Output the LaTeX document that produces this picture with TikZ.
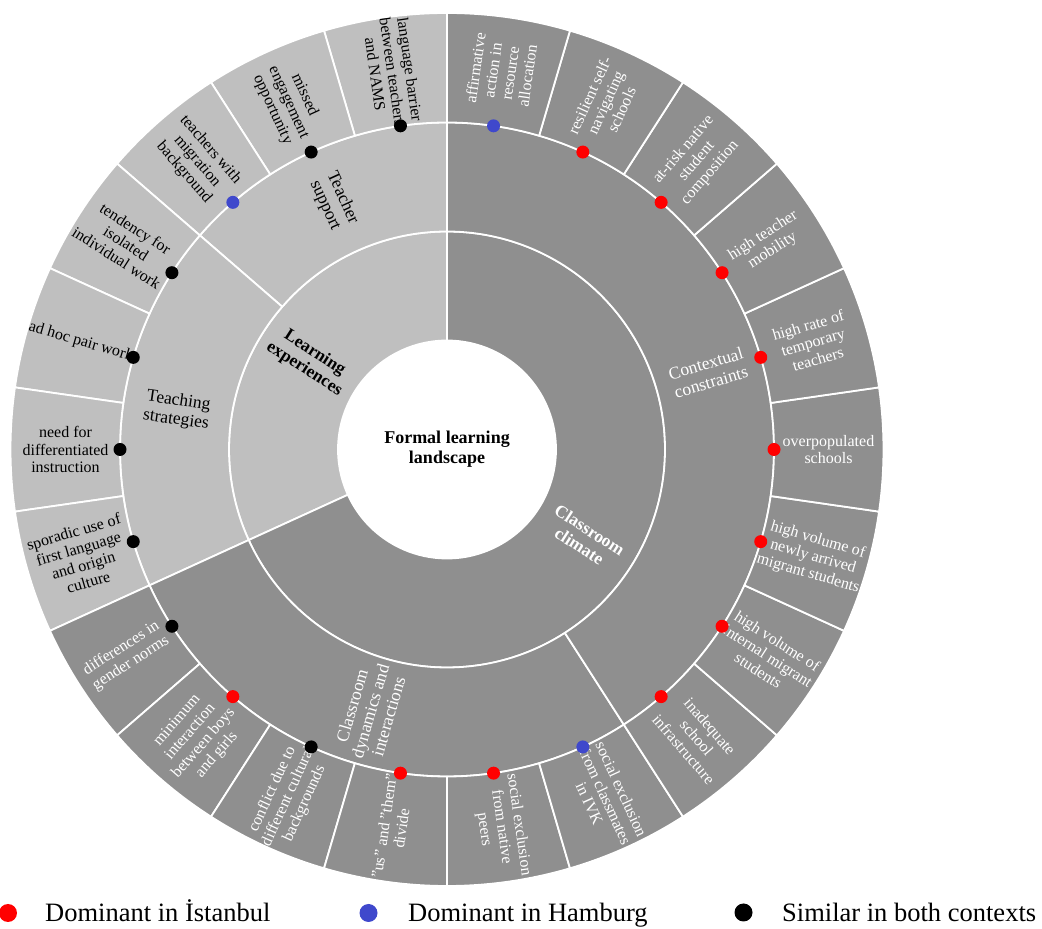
\documentclass[tikz,border=0pt]{standalone}
\usepackage{fontspec}
\setmainfont{Liberation Serif}
\definecolor{lightsec}{RGB}{191,191,191}
\definecolor{darksec}{RGB}{143,143,143}
\definecolor{istanbul}{RGB}{255,0,0}
\definecolor{hamburg}{RGB}{63,72,204}
\definecolor{both}{RGB}{0,0,0}
% annular sector: fill colour, start angle, end angle, inner radius, outer radius
\newcommand\annsec[5]{%
  \filldraw[sector, fill=#1] (#2:#4pt) arc[start angle=#2, end angle=#3, radius=#4pt]
    -- (#3:#5pt) arc[start angle=#3, end angle=#2, radius=#5pt] -- cycle;}
\begin{document}
\begin{tikzpicture}[x=1pt,y=1pt,
  sector/.style={draw=white, line width=1.8pt, line join=round},
  leaflabel/.style={align=center, inner sep=0pt, font=\fontsize{16}{17.5}\selectfont},
  midlabel/.style={align=center, inner sep=0pt, font=\fontsize{17.5}{19}\selectfont},
  toplabel/.style={align=center, inner sep=0pt, font=\bfseries\fontsize{17.5}{19}\selectfont},
  legendtext/.style={anchor=base west, inner sep=0pt, font=\fontsize{26.5}{28}\selectfont},
  marker/.style={radius=6.5pt}]
\useasboundingbox (0,0) rectangle (1042,929);
\begin{scope}[shift={(447,479.5)}]
  % innermost ring
  \annsec{lightsec}{90}{204.5455}{109}{218}
  \annsec{darksec}{204.5455}{450}{109}{218}
  % middle ring
  \annsec{lightsec}{90}{139.0909}{218}{327}
  \annsec{lightsec}{139.0909}{204.5455}{218}{327}
  \annsec{darksec}{204.5455}{302.7273}{218}{327}
  \annsec{darksec}{302.7273}{450}{218}{327}
  % outer ring: 22 equal leaves, counterclockwise from the top
  \foreach \k in {0,...,21}{
    \pgfmathsetmacro\aa{90+\k*360/22}
    \pgfmathsetmacro\bb{90+(\k+1)*360/22}
    \ifnum\k<7 \def\sc{lightsec}\else\def\sc{darksec}\fi
    \annsec{\sc}{\aa}{\bb}{327}{436.5}
  }
  % leaf labels, set radially
  \foreach \k/\txt in {
    0/{language barrier\\between teachers\\and NAMS},
    1/{missed\\engagement\\opportunity},
    2/{teachers with\\migration\\background},
    3/{tendency for\\isolated\\individual work},
    4/{ad hoc pair work},
    5/{need for\\differentiated\\instruction},
    6/{sporadic use of\\first language\\and origin\\culture},
    7/{differences in\\gender norms},
    8/{minimum\\interaction\\between boys\\and girls},
    9/{conflict due to\\different cultural\\backgrounds},
    10/{"us" and "them"\\divide},
    11/{social exclusion\\from native\\peers},
    12/{social exclusion\\from classmates\\in IVK},
    13/{inadequate\\school\\infrastructure},
    14/{high volume of\\internal migrant\\students},
    15/{high volume of\\newly arrived\\migrant students},
    16/{overpopulated\\schools},
    17/{high rate of\\temporary\\teachers},
    18/{high teacher\\mobility},
    19/{at-risk native\\student\\composition},
    20/{resilient self-\\navigating\\schools},
    21/{affirmative\\action in\\resource\\allocation}}{
    \pgfmathsetmacro\m{90+(\k+0.5)*360/22}
    \pgfmathsetmacro\rot{\m<270 ? \m-180 : \m-360}
    \ifnum\k<7 \def\tc{black}\else\def\tc{white}\fi
    \node[leaflabel, text=\tc, rotate=\rot] (leaf\k) at (\m:381.5pt) {\txt};
  }
  % middle ring labels
  \node[midlabel, rotate=-65.45] (teachsup) at (114.545:272.5pt) {Teacher\\support};
  \node[midlabel, rotate=-8.18] (teachstr) at (171.818:272.5pt) {Teaching\\strategies};
  \node[midlabel, text=white, rotate=73.64] (dynamics) at (253.636:272.5pt) {Classroom\\dynamics and\\interactions};
  \node[midlabel, text=white, rotate=16.36] (context) at (16.364:272.5pt) {Contextual\\constraints};
  % inner ring labels
  \node[toplabel, rotate=-32.73] (learning) at (147.273:163.5pt) {Learning\\experiences};
  \node[toplabel, text=white, rotate=-32.73] (climate) at (-32.727:163.5pt) {Classroom\\climate};
  % centre
  \node[align=center, inner sep=0pt, font=\bfseries\fontsize{18}{20}\selectfont] (root) at (0,0) {Formal learning\\landscape};
  % markers on the outer boundary of the middle ring
  \foreach \k/\dc in {0/both,1/both,2/hamburg,3/both,4/both,5/both,6/both,
      7/both,8/istanbul,9/both,10/istanbul,11/istanbul,12/hamburg,
      13/istanbul,14/istanbul,15/istanbul,16/istanbul,17/istanbul,
      18/istanbul,19/istanbul,20/istanbul,21/hamburg}{
    \pgfmathsetmacro\m{90+(\k+0.5)*360/22}
    \fill[\dc] (\m:327pt) circle[marker];
  }
\end{scope}
% legend
\fill[istanbul] (8,16) circle[radius=9pt];
\node[legendtext] (legist) at (45,7) {Dominant in İstanbul};
\fill[hamburg] (368.5,16) circle[radius=9pt];
\node[legendtext] (leghh) at (408,7) {Dominant in Hamburg};
\fill[both] (743.5,16.5) circle[radius=9pt];
\node[legendtext] (legboth) at (782,7) {Similar in both contexts};
\end{tikzpicture}
\end{document}
